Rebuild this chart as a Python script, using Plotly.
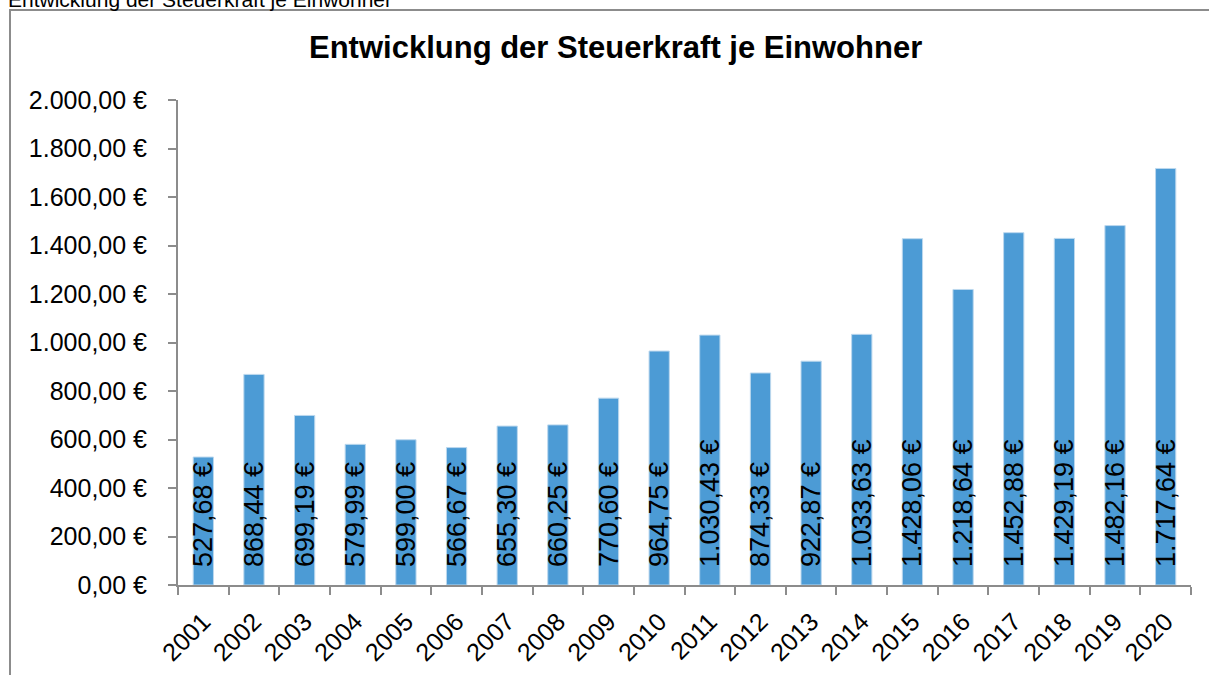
import plotly.graph_objects as go

# Steuerkraft je Einwohner, Euro
jahre = [str(j) for j in range(2001, 2021)]
steuerkraft = [527.68, 868.44, 699.19, 579.99, 599.00, 566.67, 655.30, 660.25, 770.60, 964.75,
               1030.43, 874.33, 922.87, 1033.63, 1428.06, 1218.64, 1452.88, 1429.19, 1482.16, 1717.64]
titel = "Entwicklung der Steuerkraft je Einwohner"

W, H = 1209, 675
L, R, T, B = 178, 18, 100, 90
pw, ph = W - L - R, H - T - B

# pixel -> paper coordinates
def px_x(x):
    return (x - L) / pw

def px_y(y):
    return (H - B - y) / ph

fig = go.Figure(go.Bar(
    x=jahre, y=steuerkraft,
    marker=dict(color="#4c9bd5", line=dict(color="#bcd8ee", width=1)),
    width=0.4,
    texttemplate="\u00a0\u00a0%{y:,.2f} €",
    textposition="inside",
    insidetextanchor="start",
    textangle=-90,
    textfont=dict(size=27, color="black"),
    cliponaxis=False,
))

axis_col = "#8c8c8c"
fig.update_layout(
    width=W, height=H,
    margin=dict(l=L, r=R, t=T, b=B, autoexpand=False),
    paper_bgcolor="white", plot_bgcolor="white",
    separators=",.",
    font=dict(family="Liberation Sans, Arial, sans-serif", size=24, color="black"),
    uniformtext=dict(minsize=27, mode="show"),
    showlegend=False,
    xaxis=dict(type="category", showline=True, linecolor=axis_col, linewidth=2,
               ticks="outside", tickson="boundaries", ticklen=8, tickcolor=axis_col, tickwidth=2,
               tickangle=-45, showgrid=False, ticklabelstandoff=10, tickfont=dict(size=25),
               automargin=False),
    yaxis=dict(range=[0, 2000], dtick=200, tickformat=",.2f", ticksuffix=" €",
               showline=True, linecolor=axis_col, linewidth=2,
               ticks="outside", ticklen=8, tickcolor=axis_col, tickwidth=2,
               showgrid=False, zeroline=False, ticklabelstandoff=16, tickfont=dict(size=25),
               automargin=False),
    shapes=[dict(type="rect", xref="paper", yref="paper",
                 x0=px_x(10), x1=px_x(1230), y0=px_y(700), y1=px_y(10),
                 line=dict(color=axis_col, width=2), fillcolor="rgba(0,0,0,0)", layer="below")],
    annotations=[
        dict(text=f"<b>{titel}</b>", xref="paper", yref="paper", x=px_x(615), y=px_y(48),
             xanchor="center", yanchor="middle", showarrow=False, font=dict(size=31)),
        dict(text=titel, xref="paper", yref="paper", x=px_x(6), y=px_y(-1),
             xanchor="left", yanchor="middle", showarrow=False, font=dict(size=21)),
    ],
)

fig.write_html("out.html", config={"displayModeBar": False},
               post_script="document.body.style.margin='0px';")
